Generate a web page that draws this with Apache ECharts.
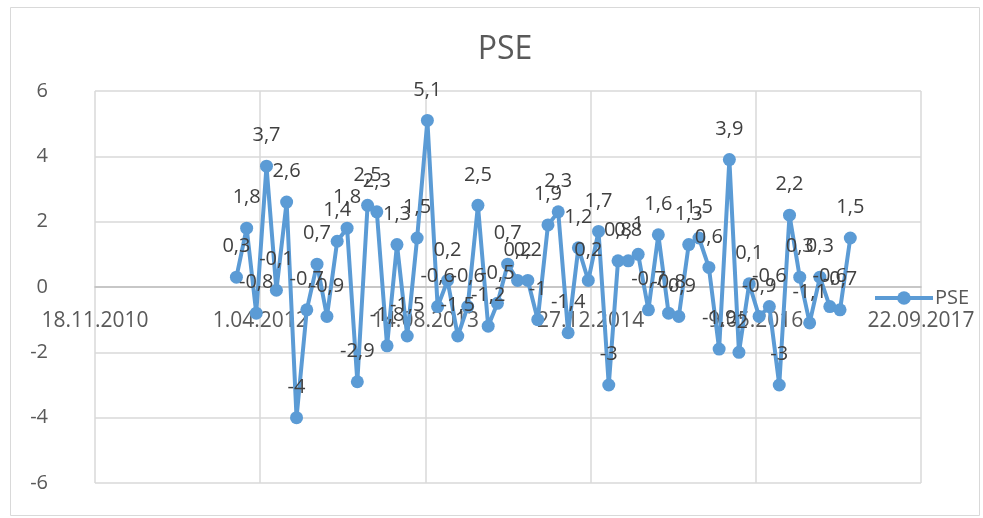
<!DOCTYPE html>
<html>
<head>
<meta charset="utf-8">
<script src="https://cdn.jsdelivr.net/npm/echarts@6/dist/echarts.min.js"></script>
<style>
html,body{margin:0;padding:0;background:#fff;}
#chart{width:983px;height:518px;}
</style>
</head>
<body>
<div id="chart"></div>
<script>
// ---- data ----
var titleText = 'PSE';
var seriesName = 'PSE';
var dates = [
  '2012-01-20','2012-02-20','2012-03-20','2012-04-20','2012-05-20','2012-06-20',
  '2012-07-20','2012-08-20','2012-09-20','2012-10-20','2012-11-20','2012-12-20',
  '2013-01-20','2013-02-20','2013-03-20','2013-04-20','2013-05-20','2013-06-20',
  '2013-07-20','2013-08-20','2013-09-20','2013-10-20','2013-11-20','2013-12-20',
  '2014-01-20','2014-02-20','2014-03-20','2014-04-20','2014-05-20','2014-06-20',
  '2014-07-20','2014-08-20','2014-09-20','2014-10-20','2014-11-20','2014-12-20',
  '2015-01-20','2015-02-20','2015-03-20','2015-04-20','2015-05-20','2015-06-20',
  '2015-07-20','2015-08-20','2015-09-20','2015-10-20','2015-11-20','2015-12-20',
  '2016-01-20','2016-02-20','2016-03-20','2016-04-20','2016-05-20','2016-06-20',
  '2016-07-20','2016-08-20','2016-09-20','2016-10-20','2016-11-20','2016-12-20',
  '2017-01-20','2017-02-20'
];
var values = [
  0.3, 1.8, -0.8, 3.7, -0.1, 2.6, -4, -0.7, 0.7, -0.9, 1.4, 1.8,
  -2.9, 2.5, 2.3, -1.8, 1.3, -1.5, 1.5, 5.1, -0.6, 0.2, -1.5, -0.6,
  2.5, -1.2, -0.5, 0.7, 0.2, 0.2, -1, 1.9, 2.3, -1.4, 1.2, 0.2,
  1.7, -3, 0.8, 0.8, 1, -0.7, 1.6, -0.8, -0.9, 1.3, 1.5, 0.6,
  -1.9, 3.9, -2, 0.1, -0.9, -0.6, -3, 2.2, 0.3, -1.1, 0.3, -0.6,
  -0.7, 1.5
];
var axisStartDate = '2010-11-18';
var xTickLabels = ['18.11.2010','1.04.2012','14.08.2013','27.12.2014','9.05.2016','22.09.2017'];
var xTickStepDays = 500;
var yTicks = { min: -6, max: 6, step: 2 };

// ---- build ----
var DAY = 86400000;
var t0 = Date.parse(axisStartDate + 'T00:00:00Z');
function dayOffset(s){ return Math.round((Date.parse(s + 'T00:00:00Z') - t0) / DAY); }
var seriesData = dates.map(function(d, i){ return [dayOffset(d), values[i]]; });
function fmtNum(v){ return String(v).replace('.', ','); }

var FONT = '"Open Sans", "Noto Sans", sans-serif';
var GRID = { left: 95, right: 62, top: 91, bottom: 35 };
var chart = echarts.init(document.getElementById('chart'), null, {renderer:'canvas'});
var option = {
  backgroundColor: '#ffffff',
  animation: false,
  title: {
    text: titleText,
    left: 500, top: 29, textAlign: 'center',
    textStyle: { fontFamily: FONT, fontSize: 32, fontWeight: 'normal', color: '#595959' }
  },
  legend: {
    data: [seriesName],
    left: 868, top: 283,
    itemWidth: 58, itemHeight: 17, itemGap: 5,
    lineStyle: { width: 4 },
    textStyle: { fontFamily: FONT, fontSize: 20, color: '#595959', padding: [0, 0, 0, -3] }
  },
  grid: { left: GRID.left, right: GRID.right, top: GRID.top, bottom: GRID.bottom,
          containLabel: false, outerBoundsMode: 'none' },
  xAxis: {
    type: 'value',
    min: 0,
    max: xTickStepDays * (xTickLabels.length - 1),
    interval: xTickStepDays,
    offset: 0,
    axisLine: { show: true, onZero: false, lineStyle: { color: '#bfbfbf', width: 1.5 } },
    axisTick: { show: false },
    axisLabel: {
      show: true, margin: 24, showMinLabel: true, showMaxLabel: true, hideOverlap: false,
      fontFamily: FONT, fontSize: 21, color: '#595959',
      formatter: function(v){ return xTickLabels[Math.round(v / xTickStepDays)] || ''; }
    },
    splitLine: { show: true, lineStyle: { color: '#d9d9d9', width: 1.5 } }
  },
  yAxis: {
    type: 'value',
    min: yTicks.min, max: yTicks.max, interval: yTicks.step,
    axisLine: { show: false, onZero: false },
    axisTick: { show: false },
    axisLabel: {
      margin: 47, fontFamily: FONT, fontSize: 20, color: '#595959',
      formatter: function(v){ return fmtNum(v); }
    },
    splitLine: { show: true, lineStyle: { color: '#d9d9d9', width: 1.5 } }
  },
  graphic: [{
    type: 'rect', left: 8, top: 5, z: -10, silent: true,
    shape: { width: 969, height: 508 },
    style: { fill: 'none', stroke: '#d9d9d9', lineWidth: 1 }
  }],
  series: [{
    name: seriesName,
    type: 'line',
    data: seriesData,
    color: '#5b9bd5',
    lineStyle: { color: '#5b9bd5', width: 4 },
    itemStyle: { color: '#5b9bd5' },
    symbol: 'circle',
    symbolSize: 13,
    showAllSymbol: true,
    label: {
      show: true, position: 'top', distance: 14,
      fontFamily: FONT, fontSize: 20, color: '#404040',
      formatter: function(p){ return fmtNum(p.value[1]); }
    }
  }]
};
chart.setOption(option);
// place the x axis on the y=0 line (Excel "axis crosses at 0"), using the library's own y scale
var zeroPx = chart.convertToPixel({ yAxisIndex: 0 }, 0);
var bottomPx = chart.convertToPixel({ yAxisIndex: 0 }, yTicks.min);
chart.setOption({ xAxis: { offset: zeroPx - bottomPx } });
</script>
</body>
</html>
